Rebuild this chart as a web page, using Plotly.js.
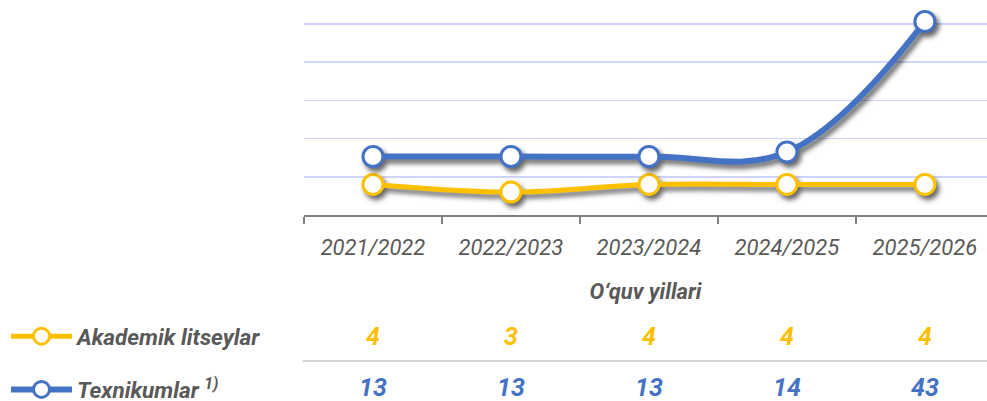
<!DOCTYPE html>
<html>
<head>
<meta charset="utf-8">
<script src="https://cdn.plot.ly/plotly-3.0.1.min.js"></script>
<style>
  html, body { margin: 0; padding: 0; background: #ffffff; }
  #chart { width: 987px; height: 401px; }
  .scatterlayer .trace { filter: drop-shadow(3px 4px 2.5px rgba(0,0,0,0.6)); }
</style>
</head>
<body>
<div id="chart"></div>
<script>
const years = ["2021/2022", "2022/2023", "2023/2024", "2024/2025", "2025/2026"];
const akademikName = "Akademik litseylar";
const texnikumName = "Texnikumlar <sup>1)</sup>";
const akademik = [4, 3, 4, 4, 4];
const texnikum = [13, 13, 13, 14, 43];
const xTitle = "O‘quv yillari";

const yellow = "#FFC000";
const blue = "#4472C4";
const gray = "#595959";

const plotTop = 0, plotBottom = 215, plotLeft = 304, W = 987, H = 401;
const plotH = plotBottom - plotTop;
const py = (pix) => (plotBottom - pix) / plotH;

const traces = [
  {
    x: years, y: akademik, name: akademikName, type: "scatter", mode: "lines+markers",
    yaxis: "y", legendgroup: "a",
    line: { color: yellow, width: 5, shape: "spline", smoothing: 1 },
    marker: { size: 20, color: "#ffffff", line: { color: yellow, width: 3 } },
    cliponaxis: false, hoverinfo: "skip"
  },
  {
    x: years, y: texnikum, name: texnikumName, type: "scatter", mode: "lines+markers",
    yaxis: "y2", legendgroup: "b",
    line: { color: blue, width: 6, shape: "spline", smoothing: 1.1 },
    marker: { size: 20, color: "#ffffff", line: { color: blue, width: 3 } },
    cliponaxis: false, hoverinfo: "skip"
  }
];

const annotations = [];
years.forEach((yr, i) => {
  annotations.push({
    x: yr, xref: "x", y: py(336), yref: "paper", text: String(akademik[i]),
    showarrow: false, xanchor: "center", yanchor: "middle",
    font: { family: "Roboto", size: 25, color: yellow, weight: "bold", style: "italic" }
  });
  annotations.push({
    x: yr, xref: "x", y: py(387.5), yref: "paper", text: String(texnikum[i]),
    showarrow: false, xanchor: "center", yanchor: "middle",
    font: { family: "Roboto", size: 25, color: blue, weight: "bold", style: "italic" }
  });
});

const layout = {
  width: W, height: H,
  margin: { l: plotLeft, r: 0, t: plotTop, b: H - plotBottom, pad: 0 },
  paper_bgcolor: "#ffffff", plot_bgcolor: "#ffffff",
  showlegend: true,
  legend: {
    xref: "container", yref: "container",
    x: 6 / W, xanchor: "left",
    y: 1 - 315 / H, yanchor: "top",
    traceorder: "grouped", tracegroupgap: 21,
    itemwidth: 61,
    font: { family: "Roboto", size: 22.5, color: gray, weight: "bold", style: "italic" },
    bgcolor: "rgba(0,0,0,0)", borderwidth: 0
  },
  xaxis: {
    type: "category", range: [-0.5, 4.45],
    showgrid: false, zeroline: false, automargin: false,
    showline: true, linecolor: "#808080", linewidth: 1.5,
    ticks: "outside", tickson: "boundaries", ticklen: 7, tickwidth: 1.5, tickcolor: "#808080",
    tickfont: { family: "Roboto", size: 22, color: gray, style: "italic" },
    ticklabelstandoff: 12,
    title: { text: xTitle, standoff: 24,
      font: { family: "Roboto", size: 22, color: gray, weight: "bold", style: "italic" } },
    fixedrange: true
  },
  yaxis: {
    range: [0, 215 / 7.64], dtick: 5, tick0: 0, automargin: false,
    showgrid: true, gridcolor: "#D0D5FF", gridwidth: 1.5,
    zeroline: false, showticklabels: false, ticks: "", showline: false, fixedrange: true
  },
  yaxis2: {
    range: [0, 215 / 4.5], overlaying: "y", side: "right", automargin: false,
    showgrid: false, zeroline: false, showticklabels: false, ticks: "", showline: false, fixedrange: true
  },
  shapes: [
    { type: "line", xref: "paper", yref: "paper", x0: -0.002, x1: 1, y0: py(361), y1: py(361),
      line: { color: "#C8C8C8", width: 1.5 } }
  ],
  annotations: annotations
};

Plotly.newPlot("chart", traces, layout, { displayModeBar: false, staticPlot: true });
</script>
</body>
</html>
